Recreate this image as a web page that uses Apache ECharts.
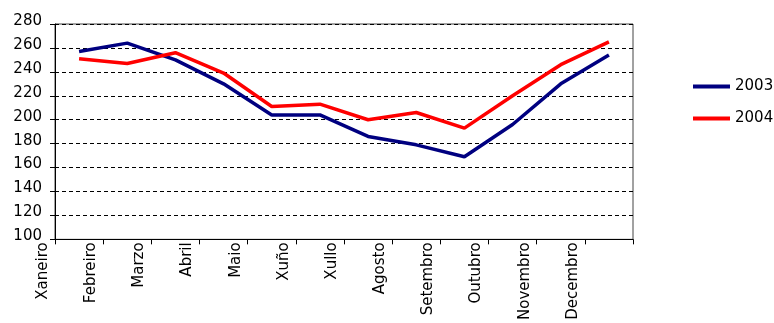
<!DOCTYPE html>
<html>
<head>
<meta charset="utf-8">
<script src="https://cdn.jsdelivr.net/npm/echarts@6/dist/echarts.min.js"></script>
<style>
  html, body { margin: 0; padding: 0; background: #fff; }
  #chart { width: 774px; height: 323px; }
</style>
</head>
<body>
<div id="chart"></div>
<script>
// meses (categorías do eixo X)
var months = ['Xaneiro', 'Febreiro', 'Marzo', 'Abril', 'Maio', 'Xuño', 'Xullo',
              'Agosto', 'Setembro', 'Outubro', 'Novembro', 'Decembro'];
var series2003 = [257, 264, 250, 230, 204, 204, 186, 179, 169, 196, 230, 254];
var series2004 = [251, 247, 256, 239, 211, 213, 200, 206, 193, 220, 246, 265];
var yTicks = [100, 120, 140, 160, 180, 200, 220, 240, 260, 280];

// cada punto no centro da súa categoría
function toPoints(values) {
  return values.map(function (v, i) { return [i + 0.5, v]; });
}

var chart = echarts.init(document.getElementById('chart'));
var font = 'DejaVu Sans';

var option = {
  animation: false,
  textStyle: { fontFamily: font },
  grid: {
    left: 55, right: 141, top: 24, bottom: 81,
    show: true,
    borderColor: '#444',
    borderWidth: 1
  },
  legend: {
    orient: 'vertical',
    left: 693,
    top: 79,
    padding: 0,
    itemWidth: 37,
    itemHeight: 4,
    itemGap: 17,
    icon: 'rect',
    textStyle: { fontFamily: font, fontSize: 15, color: '#000' },
    data: ['2003', '2004']
  },
  xAxis: {
    type: 'value',
    min: 0,
    max: months.length,
    interval: 1,
    axisLine: { lineStyle: { color: '#000', width: 1 } },
    axisTick: { show: true, length: 5, lineStyle: { color: '#000' } },
    splitLine: { show: false },
    axisLabel: {
      rotate: 90,
      margin: 3,
      fontSize: 15,
      color: '#000',
      fontFamily: font,
      verticalAlign: 'bottom',
      lineHeight: 24,
      formatter: function (v) { return months[v] || ''; }
    }
  },
  yAxis: {
    type: 'value',
    min: yTicks[0],
    max: yTicks[yTicks.length - 1],
    interval: 20,
    axisLine: { show: true, lineStyle: { color: '#000', width: 1 } },
    axisTick: { show: true, length: 5, lineStyle: { color: '#000' } },
    splitLine: { lineStyle: { color: '#000', type: [4, 3], width: 1 } },
    axisLabel: {
      margin: 13,
      fontSize: 15,
      color: '#000',
      fontFamily: font,
      verticalAlign: 'bottom',
      lineHeight: 6
    }
  },
  series: [
    {
      name: '2003',
      type: 'line',
      data: toPoints(series2003),
      symbol: 'none',
      color: '#000080',
      lineStyle: { width: 3.5, color: '#000080' }
    },
    {
      name: '2004',
      type: 'line',
      data: toPoints(series2004),
      symbol: 'none',
      color: '#ff0000',
      lineStyle: { width: 3.5, color: '#ff0000' }
    }
  ]
};

chart.setOption(option);
</script>
</body>
</html>
